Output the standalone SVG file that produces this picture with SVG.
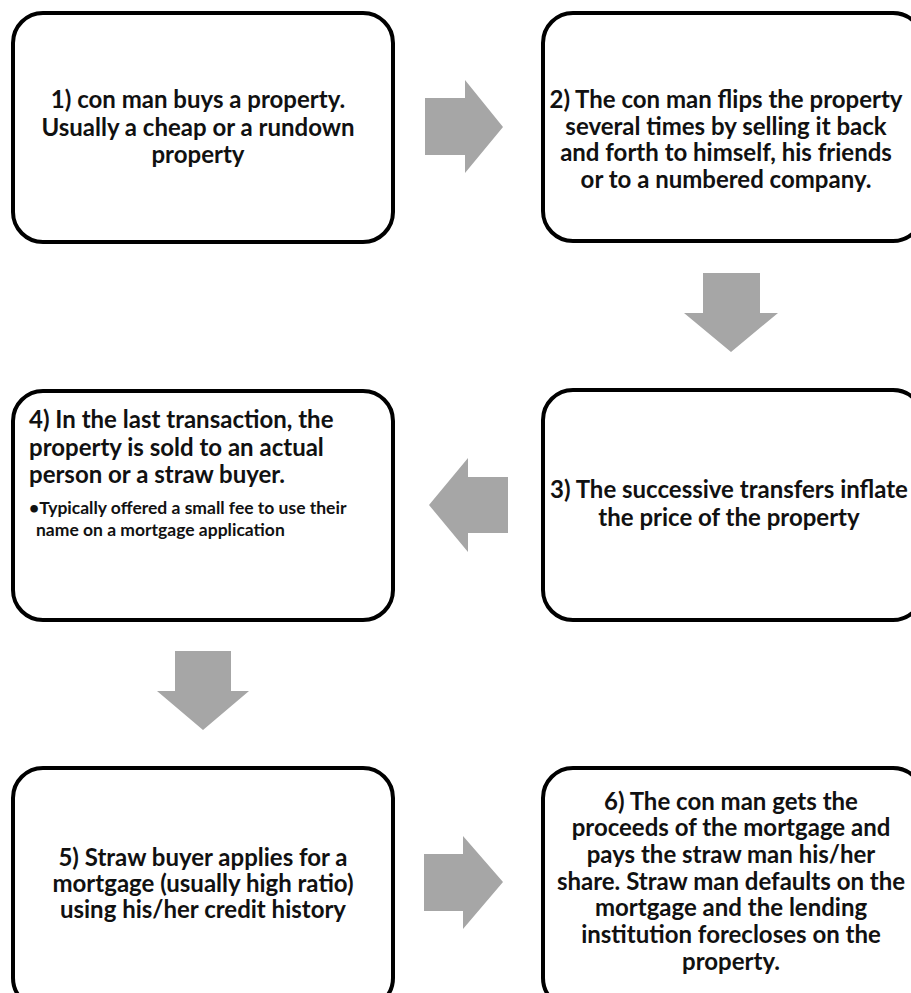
<svg xmlns="http://www.w3.org/2000/svg" width="911" height="993" viewBox="0 0 911 993">
  <style>
    .box { fill: #ffffff; stroke: #000000; stroke-width: 4; }
    .arrow { fill: #a6a6a6; stroke: none; }
    text { font-family: "Lato", "Liberation Sans", sans-serif; font-weight: 700; fill: #111111; }
    .c { font-size: 24px; text-anchor: middle; }
    .l { font-size: 24px; }
    .s { font-size: 17.5px; }
  </style>
  <rect width="911" height="993" fill="#ffffff"/>

  <g id="connectors">
    <!-- 1 to 2 -->
    <polygon class="arrow" points="425,98 465,98 465,80 503,127 465,173 465,155 425,155"/>
    <!-- 2 to 3 -->
    <polygon class="arrow" points="703,273 760,273 760,313 778,313 731,352 684,313 703,313"/>
    <!-- 3 to 4 -->
    <polygon class="arrow" points="508,477 508,533 468,533 468,552 429,505 468,458 468,477"/>
    <!-- 4 to 5 -->
    <polygon class="arrow" points="175,651 231,651 231,691 249,691 203,730 157,691 175,691"/>
    <!-- 5 to 6 -->
    <polygon class="arrow" points="424,854 463,854 463,836 503,882 463,929 463,911 424,911"/>
  </g>

  <g id="step1">
    <rect class="box" x="13" y="13" width="380" height="229" rx="30"/>
    <text class="c" x="198" y="108">1) con man buys a property.</text>
    <text class="c" x="198" y="136">Usually  a cheap or a rundown</text>
    <text class="c" x="198" y="163">property</text>
  </g>

  <g id="step2">
    <rect class="box" x="543" y="13" width="380" height="228" rx="30"/>
    <text class="c" x="726" y="108">2) The con man flips the property</text>
    <text class="c" x="726" y="135">several times by selling it back</text>
    <text class="c" x="726" y="161">and forth to himself, his friends</text>
    <text class="c" x="726" y="188">or to a numbered company.</text>
  </g>

  <g id="step3">
    <rect class="box" x="543" y="390" width="380" height="230" rx="30"/>
    <text class="c" x="729" y="498">3) The successive transfers inflate</text>
    <text class="c" x="729" y="526">the price of the property</text>
  </g>

  <g id="step4">
    <rect class="box" x="13" y="391" width="380" height="229" rx="30"/>
    <text class="l" x="29" y="428">4) In the last transaction, the</text>
    <text class="l" x="29" y="456">property is sold to an  actual</text>
    <text class="l" x="29" y="483">person or a  straw buyer.</text>
    <text class="s" x="29" y="514">•Typically offered a small fee to use their</text>
    <text class="s" x="36" y="536">name on a mortgage application</text>
  </g>

  <g id="step5">
    <rect class="box" x="13" y="768" width="380" height="240" rx="30"/>
    <text class="c" x="203" y="866">5) Straw buyer applies for a</text>
    <text class="c" x="203" y="892">mortgage (usually high ratio)</text>
    <text class="c" x="203" y="918">using his/her credit history</text>
  </g>

  <g id="step6">
    <rect class="box" x="543" y="768" width="380" height="240" rx="30"/>
    <text class="c" x="731" y="810">6) The con man gets the</text>
    <text class="c" x="731" y="836">proceeds of the mortgage and</text>
    <text class="c" x="731" y="863">pays the straw man his/her</text>
    <text class="c" x="731" y="890">share. Straw man defaults on the</text>
    <text class="c" x="731" y="916">mortgage and the lending</text>
    <text class="c" x="731" y="943">institution forecloses on the</text>
    <text class="c" x="731" y="970">property.</text>
  </g>
</svg>
